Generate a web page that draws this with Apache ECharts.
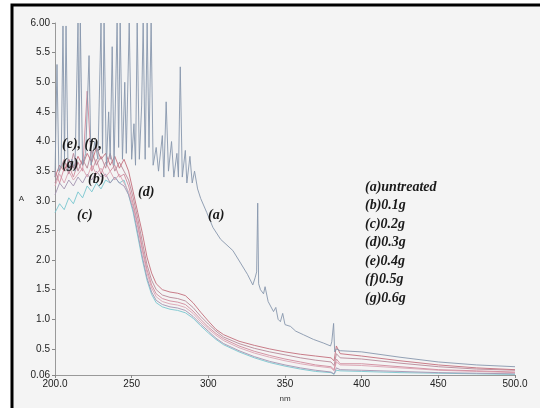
<!DOCTYPE html>
<html>
<head>
<meta charset="utf-8">
<script src="https://cdn.jsdelivr.net/npm/echarts@6/dist/echarts.min.js"></script>
<style>
  html, body { margin: 0; padding: 0; background: #fff; }
  #main { width: 540px; height: 408px; }
</style>
</head>
<body>
<div id="main"></div>
<script>
// UV-Vis spectra, wavelength (nm) vs absorbance (A)

// (a) untreated - noisy, own wavelength points
var untreatedNm = [200, 201.3, 202.5, 204, 205.2, 206.2, 207.2, 208.5, 211, 213, 215, 215.7, 216.5, 218, 220, 222.2, 223.5, 226, 228, 230, 231, 232, 233.5, 235, 236, 237.3, 238.5, 240.5, 241.5, 242.5, 244, 245.5, 246.5, 248.4, 250, 251.5, 252.5, 253.6, 255, 256.5, 257.5, 258.8, 260.1, 261.3, 262.7, 264, 266, 267.5, 270, 271, 272.5, 274, 276, 277.5, 279.5, 280.5, 281.7, 283, 285, 286, 288, 289.5, 291, 293, 295, 299, 303, 308, 316, 321, 325.5, 329, 330.5, 331.5, 332.2, 332.8, 334, 336, 337, 339, 342.5, 344, 345.5, 347, 348.5, 350, 353.6, 357, 362, 368.6, 375, 379.7, 380.5, 381.7, 382.4, 383.5, 386, 400, 425, 450, 475, 500];
var untreatedA = [3.4, 5.3, 3.5, 3.6, 5.95, 3.7, 5.95, 3.5, 3.7, 3.5, 6.0, 3.9, 6.0, 3.6, 3.8, 5.45, 3.6, 4.0, 3.7, 6.0, 3.8, 6.0, 3.6, 4.5, 3.7, 5.6, 3.6, 6.0, 3.9, 6.0, 3.7, 5.0, 3.8, 6.0, 3.7, 4.3, 3.6, 6.0, 3.7, 4.6, 6.0, 3.7, 6.0, 3.9, 6.0, 3.6, 3.9, 3.5, 4.1, 3.4, 4.67, 3.5, 4.0, 3.4, 3.8, 3.4, 5.26, 3.4, 3.85, 3.3, 3.75, 3.3, 3.5, 3.2, 3.04, 2.8, 2.55, 2.35, 2.16, 1.95, 1.76, 1.58, 1.7, 1.8, 2.96, 1.6, 1.5, 1.43, 1.55, 1.3, 1.13, 1.2, 1.0, 0.96, 1.1, 0.91, 0.88, 0.8, 0.74, 0.66, 0.6, 0.55, 0.62, 0.93, 0.45, 0.5, 0.47, 0.45, 0.36, 0.28, 0.23, 0.2];

// (b)-(g) share one wavelength grid
var nmGrid = [200, 203, 206, 209, 212, 215, 218, 221, 224, 227, 230, 233, 236, 239, 242, 245, 248, 251, 254, 257, 260, 263, 266, 270, 275, 280, 285, 290, 295, 300, 305, 310, 320, 330, 340, 350, 360, 370, 380, 382, 383.5, 386, 400, 425, 450, 475, 500];

var b01 = [3.1, 3.3, 3.2, 3.35, 3.25, 3.4, 3.3, 3.45, 3.35, 3.5, 3.4, 3.45, 3.3, 3.4, 3.3, 3.25, 3.1, 2.85, 2.45, 2.05, 1.7, 1.46, 1.32, 1.25, 1.21, 1.19, 1.15, 1.05, 0.92, 0.8, 0.68, 0.59, 0.47, 0.37, 0.29, 0.23, 0.18, 0.14, 0.11, 0.08, 0.18, 0.15, 0.14, 0.12, 0.1, 0.09, 0.08];
var c02 = [2.8, 2.95, 2.85, 3.05, 2.95, 3.15, 3.05, 3.25, 3.15, 3.3, 3.2, 3.35, 3.3, 3.4, 3.3, 3.35, 3.1, 2.8, 2.4, 2.0, 1.66, 1.42, 1.28, 1.21, 1.17, 1.15, 1.11, 1.02, 0.89, 0.77, 0.66, 0.57, 0.45, 0.35, 0.27, 0.21, 0.16, 0.12, 0.1, 0.07, 0.14, 0.13, 0.12, 0.1, 0.09, 0.08, 0.07];
var d03 = [3.4, 3.6, 3.5, 3.7, 3.55, 3.75, 3.6, 3.8, 3.65, 3.9, 3.7, 3.8, 3.6, 3.75, 3.55, 3.7, 3.5, 3.15, 2.8, 2.45, 2.05, 1.78, 1.6, 1.5, 1.46, 1.44, 1.4, 1.28, 1.12, 0.97, 0.83, 0.74, 0.63, 0.56, 0.5, 0.45, 0.41, 0.38, 0.35, 0.3, 0.55, 0.42, 0.38, 0.3, 0.23, 0.18, 0.15];
var e04 = [3.5, 3.3, 3.55, 3.6, 3.4, 3.65, 3.5, 4.85, 3.5, 3.7, 3.45, 3.65, 3.5, 3.6, 3.4, 3.45, 3.25, 2.95, 2.6, 2.2, 1.84, 1.58, 1.43, 1.35, 1.31, 1.29, 1.25, 1.14, 1.0, 0.87, 0.76, 0.67, 0.55, 0.46, 0.39, 0.33, 0.28, 0.23, 0.2, 0.15, 0.33, 0.25, 0.25, 0.2, 0.15, 0.13, 0.11];
var f05 = [3.3, 3.5, 3.7, 3.45, 3.8, 3.5, 3.7, 3.55, 3.85, 3.6, 3.75, 3.55, 3.8, 3.5, 3.65, 3.5, 3.35, 3.05, 2.7, 2.3, 1.92, 1.66, 1.5, 1.41, 1.37, 1.35, 1.31, 1.2, 1.05, 0.92, 0.8, 0.7, 0.59, 0.51, 0.45, 0.4, 0.35, 0.31, 0.28, 0.22, 0.42, 0.35, 0.33, 0.26, 0.2, 0.16, 0.14];
var g06 = [3.25, 3.45, 3.3, 3.5, 3.35, 3.45, 3.55, 3.4, 3.6, 3.45, 3.55, 3.4, 3.5, 3.35, 3.45, 3.3, 3.15, 2.9, 2.55, 2.15, 1.78, 1.53, 1.38, 1.3, 1.26, 1.24, 1.2, 1.1, 0.96, 0.84, 0.73, 0.64, 0.52, 0.43, 0.36, 0.3, 0.25, 0.21, 0.18, 0.13, 0.28, 0.23, 0.22, 0.18, 0.14, 0.12, 0.1];

var yTicks = [0.06, 0.5, 1.0, 1.5, 2.0, 2.5, 3.0, 3.5, 4.0, 4.5, 5.0, 5.5, 6.0];
var legendLines = ['(a)untreated', '(b)0.1g', '(c)0.2g', '(d)0.3g', '(e)0.4g', '(f)0.5g', '(g)0.6g'];

function pairs(xs, ys) {
  return xs.map(function (x, i) { return [x, ys[i]]; });
}

function lineSeries(name, color, data) {
  return {
    name: name,
    type: 'line',
    showSymbol: false,
    symbol: 'none',
    lineStyle: { width: 1, color: color, opacity: 0.9 },
    data: data
  };
}

var labelFont = {
  fontFamily: 'Liberation Serif',
  fontWeight: 'bold',
  fontStyle: 'italic',
  fontSize: 14,
  fill: '#1a1a1a'
};

function tag(text, x, y) {
  return {
    type: 'text', left: x, top: y, z: 100,
    style: Object.assign({ text: text }, labelFont)
  };
}

var myChart = echarts.init(document.getElementById('main'));
var option = {
  animation: false,
  backgroundColor: '#fff',
  grid: { left: 55, right: 25, top: 23, bottom: 25 },
  xAxis: {
    type: 'value',
    min: 200,
    max: 500,
    interval: 50,
    name: 'nm',
    nameLocation: 'middle',
    nameGap: 20,
    nameTextStyle: { fontFamily: 'Liberation Sans', fontSize: 8, color: '#333' },
    axisLine: { lineStyle: { color: '#999' } },
    axisTick: { length: 3, lineStyle: { color: '#888' } },
    axisLabel: {
      fontFamily: 'Liberation Sans', fontSize: 10, color: '#222', margin: 4,
      formatter: function (v) { return (v === 200 || v === 500) ? v.toFixed(1) : String(v); }
    },
    splitLine: { show: false }
  },
  yAxis: {
    type: 'value',
    min: 0.06,
    max: 6.0,
    name: 'A',
    nameLocation: 'middle',
    nameRotate: 0,
    nameGap: 31,
    nameTextStyle: { fontFamily: 'Liberation Sans', fontSize: 8, color: '#333', padding: [10, 0, 0, 0] },
    axisLine: { show: true, lineStyle: { color: '#999' } },
    axisTick: { show: true, length: 3, customValues: yTicks, lineStyle: { color: '#888' } },
    axisLabel: {
      customValues: yTicks,
      fontFamily: 'Liberation Sans', fontSize: 10, color: '#222', margin: 5,
      formatter: function (v) {
        if (v === 0.06) return '0.06';
        if (v === 6) return '6.00';
        return v.toFixed(1);
      }
    },
    splitLine: { show: false }
  },
  graphic: [
    {
      type: 'rect', z: -10,
      shape: { x: 12, y: 5, width: 528, height: 403 },
      style: { fill: '#f4f4f4' }
    },
    {
      type: 'polyline', z: -9,
      shape: { points: [[12, 408], [12, 5], [540, 5]] },
      style: { stroke: '#000', lineWidth: 3, fill: null }
    },
    tag('(e), (f),', 62, 137),
    tag('(g)', 62, 157),
    tag('(b)', 88, 172),
    tag('(c)', 77, 208),
    tag('(d)', 138, 185),
    tag('(a)', 208, 208),
    {
      type: 'text', left: 365, top: 178, z: 100,
      style: Object.assign({ text: legendLines.join('\n'), lineHeight: 18.5 }, labelFont)
    }
  ],
  series: [
    lineSeries('(c)0.2g', '#79c6cf', pairs(nmGrid, c02)),
    lineSeries('(b)0.1g', '#a393b0', pairs(nmGrid, b01)),
    lineSeries('(g)0.6g', '#dca3b3', pairs(nmGrid, g06)),
    lineSeries('(e)0.4g', '#d08b9c', pairs(nmGrid, e04)),
    lineSeries('(f)0.5g', '#b88898', pairs(nmGrid, f05)),
    lineSeries('(d)0.3g', '#c36f7c', pairs(nmGrid, d03)),
    lineSeries('(a)untreated', '#8797ad', pairs(untreatedNm, untreatedA))
  ]
};
myChart.setOption(option);
</script>
</body>
</html>
